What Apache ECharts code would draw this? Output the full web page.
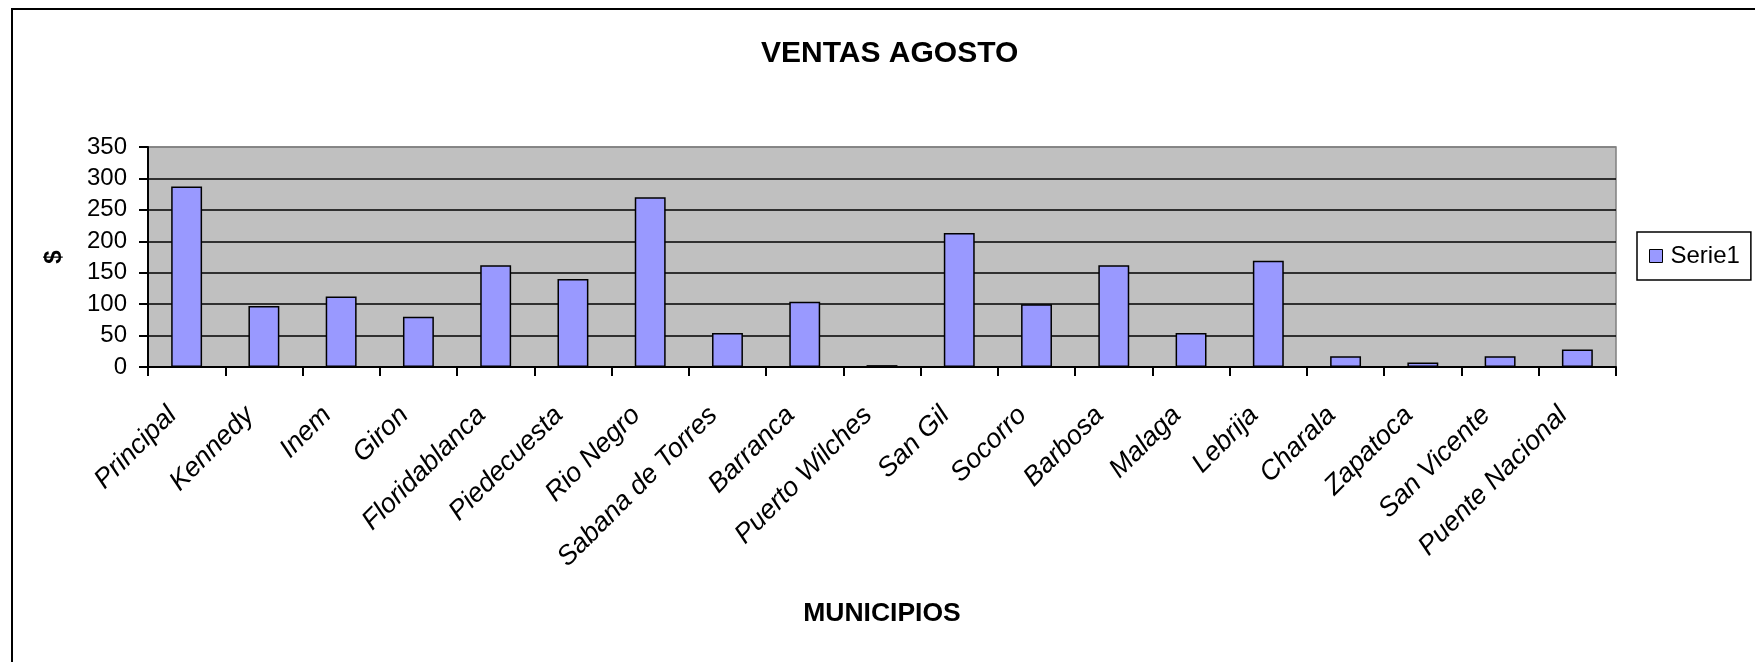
<!DOCTYPE html>
<html>
<head>
<meta charset="utf-8">
<script src="https://cdn.jsdelivr.net/npm/echarts@6/dist/echarts.min.js"></script>
<style>
html,body{margin:0;padding:0;background:#fff;}
#chart{width:1755px;height:662px;}
</style>
</head>
<body>
<div id="chart"></div>
<script>
const categories = ["Principal","Kennedy","Inem","Giron","Floridablanca","Piedecuesta","Rio Negro","Sabana de Torres","Barranca","Puerto Wilches","San Gil","Socorro","Barbosa","Malaga","Lebrija","Charala","Zapatoca","San Vicente","Puente Nacional"];
const serie1 = [287,97,112,80,162,140,270,54,104,3,213,100,162,54,169,17,7,17,28];
const seriesName = "Serie1";
const chartTitle = "VENTAS AGOSTO";
const xTitle = "MUNICIPIOS";
const yTitle = "$";

const FONT = "'Liberation Sans', Arial, sans-serif";

const chart = echarts.init(document.getElementById('chart'), null, {renderer: 'canvas'});
chart.setOption({
  animation: false,
  backgroundColor: '#fff',
  title: {
    text: chartTitle,
    left: 761, top: 39,
    padding: 0,
    textStyle: {fontFamily: FONT, fontWeight: 'bold', fontSize: 30, color: '#000'}
  },
  legend: {
    data: [seriesName],
    left: 1637, top: 232,
    orient: 'vertical',
    padding: [12, 11, 12, 12],
    itemWidth: 13, itemHeight: 13, itemGap: 0,
    borderColor: '#000', borderWidth: 1.5,
    backgroundColor: '#fff',
    icon: 'rect',
    textStyle: {fontFamily: FONT, fontSize: 24, color: '#000', padding: [0,0,0,3]},
    itemStyle: {borderColor: '#000', borderWidth: 1}
  },
  grid: {
    left: 148, right: 139, top: 147, bottom: 295,
    show: true, backgroundColor: '#C0C0C0', borderColor: '#808080', borderWidth: 1.5,
    containLabel: false
  },
  xAxis: {
    type: 'category',
    data: categories,
    name: xTitle,
    nameLocation: 'middle',
    nameGap: 233,
    nameTextStyle: {fontFamily: FONT, fontWeight: 'bold', fontSize: 26.5, color: '#000'},
    axisLine: {show: true, lineStyle: {color: '#000', width: 2}},
    axisTick: {show: true, length: 9, lineStyle: {color: '#000', width: 2}},
    axisLabel: {
      rotate: 45, interval: 0, margin: 30,
      padding: [0, 20, 0, 0],
      fontFamily: FONT, fontStyle: 'italic', fontSize: 27, color: '#000'
    },
    splitLine: {show: false}
  },
  yAxis: {
    type: 'value',
    min: 0, max: 350, interval: 50,
    name: yTitle,
    nameLocation: 'middle',
    nameGap: 82,
    nameRotate: 90,
    nameTextStyle: {fontFamily: FONT, fontWeight: 'bold', fontSize: 24, color: '#000'},
    axisLine: {show: true, lineStyle: {color: '#000', width: 2}},
    axisTick: {show: true, length: 9, lineStyle: {color: '#000', width: 2}},
    axisLabel: {margin: 21, fontFamily: FONT, fontSize: 24, color: '#000'},
    splitLine: {show: true, lineStyle: {color: ['#000','#000','#000','#000','#000','#000','#000','#808080'], width: 1.5}}
  },
  series: [{
    name: seriesName,
    type: 'bar',
    data: serie1,
    barCategoryGap: '60%',
    itemStyle: {color: '#9999FF', borderColor: '#000', borderWidth: 1.5}
  }],
  graphic: [{
    type: 'rect', silent: true, z: -1,
    shape: {x: 12, y: 9, width: 1770, height: 680},
    style: {fill: 'none', stroke: '#000', lineWidth: 2}
  }]
});
</script>
</body>
</html>
